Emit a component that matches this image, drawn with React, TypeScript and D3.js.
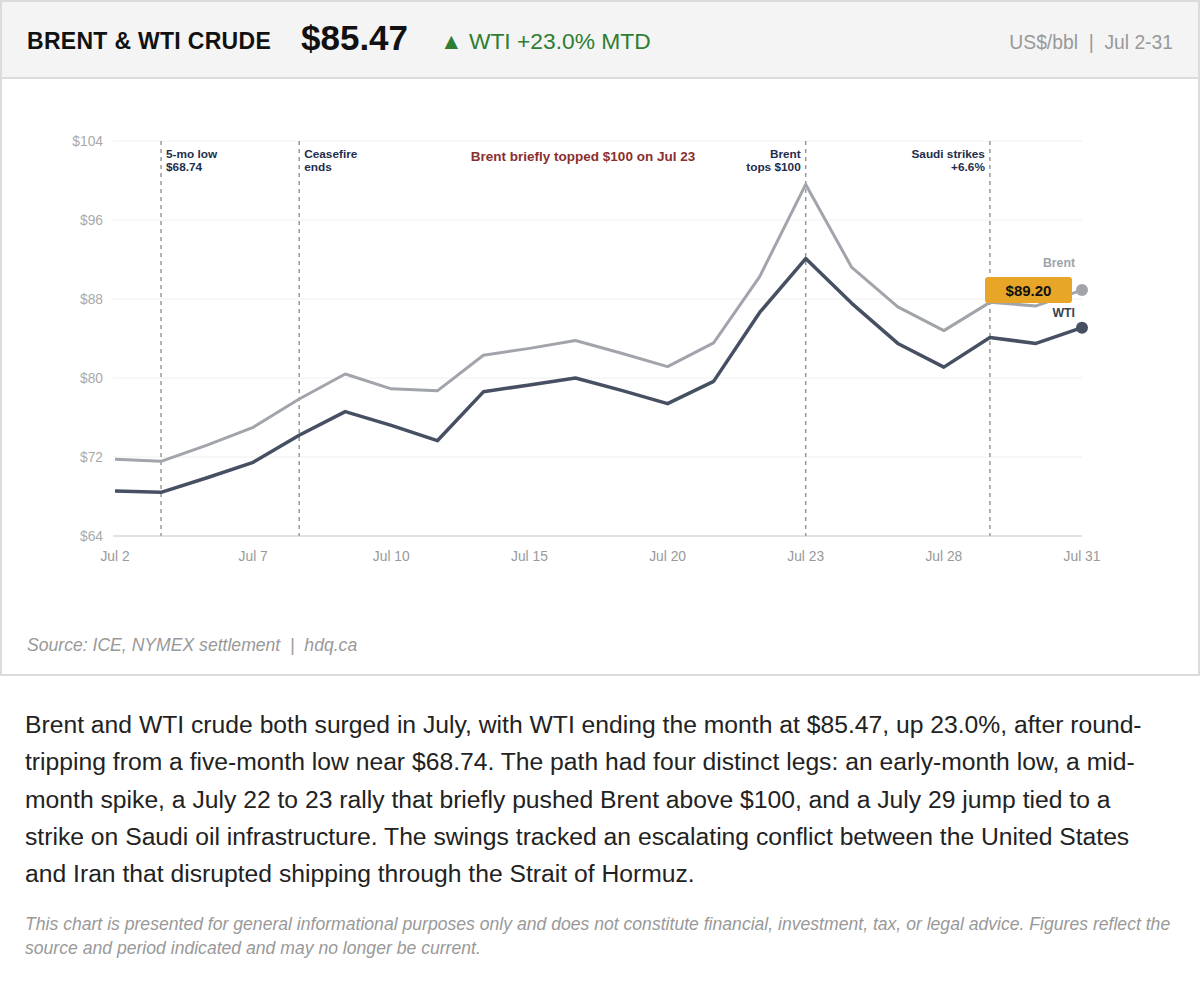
import React, { useEffect } from 'react';
import * as d3 from 'd3';

const dates = ["Jul 2", "Jul 3", "Jul 6", "Jul 7", "Jul 8", "Jul 9", "Jul 10", "Jul 13", "Jul 14", "Jul 15", "Jul 16",
  "Jul 17", "Jul 20", "Jul 21", "Jul 22", "Jul 23", "Jul 24", "Jul 27", "Jul 28", "Jul 29", "Jul 30", "Jul 31"];
const brent = [71.77, 71.56, 73.2, 75.0, 77.87, 80.4, 78.9, 78.7, 82.3, 83.0, 83.8,
  82.5, 81.15, 83.56, 90.27, 99.6, 91.2, 87.2, 84.8, 87.66, 87.3, 88.9];
const wti = [68.56, 68.42, 69.9, 71.46, 74.2, 76.6, 75.2, 73.65, 78.6, 79.3, 80.0,
  78.75, 77.4, 79.66, 86.64, 92.1, 87.56, 83.5, 81.1, 84.1, 83.5, 85.1];
const xTicks = ["Jul 2", "Jul 7", "Jul 10", "Jul 15", "Jul 20", "Jul 23", "Jul 28", "Jul 31"];
const yTicks = [64, 72, 80, 88, 96, 104];

// event markers: date, text lines, which side of the line the text sits
const events = [
  { date: "Jul 3", lines: ["5-mo low", "$68.74"], side: "right" },
  { date: "Jul 8", lines: ["Ceasefire", "ends"], side: "right" },
  { date: "Jul 23", lines: ["Brent", "tops $100"], side: "left" },
  { date: "Jul 29", lines: ["Saudi strikes", "+6.6%"], side: "left" },
];

const paragraph = [
  "Brent and WTI crude both surged in July, with WTI ending the month at $85.47, up 23.0%, after round-",
  "tripping from a five-month low near $68.74. The path had four distinct legs: an early-month low, a mid-",
  "month spike, a July 22 to 23 rally that briefly pushed Brent above $100, and a July 29 jump tied to a",
  "strike on Saudi oil infrastructure. The swings tracked an escalating conflict between the United States",
  "and Iran that disrupted shipping through the Strait of Hormuz.",
];
const disclaimer = [
  "This chart is presented for general informational purposes only and does not constitute financial, investment, tax, or legal advice. Figures reflect the",
  "source and period indicated and may no longer be current.",
];

const FONT = '"Liberation Sans", Arial, Helvetica, sans-serif';
const BRENT_C = "#a1a4ab";
const WTI_C = "#475062";
const NAVY = "#1f2d4d";

export default function App() {
  useEffect(() => {
    document.body.style.margin = "0";
  }, []);

  const x = d3.scalePoint<string>().domain(dates).range([115, 1082]);
  const y = d3.scaleLinear().domain([64, 104]).range([536, 141]);

  const line = d3.line<number>()
    .x((_, i) => x(dates[i]) as number)
    .y(d => y(d));

  const last = dates.length - 1;
  const xEnd = x(dates[last]) as number;
  const yBrentEnd = y(brent[last]);
  const yWtiEnd = y(wti[last]);

  return (
    <svg width={1200} height={1001} style={{ display: 'block', fontFamily: FONT }}>
      <rect x={0} y={0} width={1200} height={1001} fill="#fff" />

      {/* card */}
      <rect x={1} y={1} width={1198} height={674} fill="#fff" stroke="#dcdcdc" strokeWidth={2} />
      <rect x={2} y={2} width={1196} height={76} fill="#f4f4f4" />
      <line x1={1} x2={1199} y1={78} y2={78} stroke="#dcdcdc" strokeWidth={2} />

      <text x={27} y={49} fontSize={23} fontWeight="bold" fill="#111" letterSpacing={0.3}>BRENT &amp; WTI CRUDE</text>
      <text x={301} y={50} fontSize={35} fontWeight="bold" fill="#111">$85.47</text>
      <text x={440} y={49} fontSize={22.8} fill="#2e7d32">▲ WTI +23.0% MTD</text>
      <text x={1173} y={49} fontSize={19.3} fill="#999" textAnchor="end" xmlSpace="preserve">US$/bbl  |  Jul 2-31</text>

      {/* grid */}
      {yTicks.map(t => (
        <g key={t}>
          <line x1={113} x2={1082} y1={y(t)} y2={y(t)} stroke={t === 64 ? "#d8d8d8" : "#f0f0f0"} strokeWidth={t === 64 ? 1.5 : 1} />
          <text x={103} y={y(t)} dy="0.35em" fontSize={13.8} fill="#aaa" textAnchor="end">${t}</text>
        </g>
      ))}
      {xTicks.map(t => (
        <text key={t} x={x(t)} y={561} fontSize={13.8} fill="#999" textAnchor="middle">{t}</text>
      ))}

      {/* event markers */}
      {events.map(e => {
        const ex = x(e.date) as number;
        const right = e.side === "right";
        return (
          <g key={e.date}>
            <line x1={ex} x2={ex} y1={141} y2={536} stroke="#999" strokeWidth={1.5} strokeDasharray="4,4" />
            {e.lines.map((l, i) => (
              <text key={i} x={right ? ex + 5 : ex - 5} y={158 + i * 13} fontSize={11.8} fontWeight="bold"
                fill={NAVY} textAnchor={right ? "start" : "end"}>{l}</text>
            ))}
          </g>
        );
      })}
      <text x={583} y={161} fontSize={13.5} fontWeight="bold" fill="#8b2e2e" textAnchor="middle">Brent briefly topped $100 on Jul 23</text>

      {/* lines */}
      <path d={line(brent) as string} fill="none" stroke={BRENT_C} strokeWidth={3} strokeLinejoin="round" />
      <path d={line(wti) as string} fill="none" stroke={WTI_C} strokeWidth={3.5} strokeLinejoin="round" />
      <circle cx={xEnd} cy={yBrentEnd} r={6} fill={BRENT_C} />
      <circle cx={xEnd} cy={yWtiEnd} r={6} fill={WTI_C} />

      {/* end labels */}
      <text x={xEnd - 7} y={yBrentEnd - 23} fontSize={12.3} fontWeight="bold" fill={BRENT_C} textAnchor="end">Brent</text>
      <text x={xEnd - 7} y={yWtiEnd - 11} fontSize={12.3} fontWeight="bold" fill="#3a4252" textAnchor="end">WTI</text>
      <rect x={xEnd - 97} y={yBrentEnd - 13} width={87} height={26} rx={3} fill="#e8a628" />
      <text x={xEnd - 53.5} y={yBrentEnd} dy="0.36em" fontSize={15} fontWeight="bold" fill="#111" textAnchor="middle">$89.20</text>

      <text x={27} y={651} fontSize={17.6} fontStyle="italic" fill="#999" xmlSpace="preserve">Source: ICE, NYMEX settlement  |  hdq.ca</text>

      {/* commentary */}
      {paragraph.map((l, i) => (
        <text key={i} x={25} y={733 + i * 37.3} fontSize={24.7} fill="#222">{l}</text>
      ))}
      {disclaimer.map((l, i) => (
        <text key={i} x={25} y={930 + i * 24} fontSize={17.6} fontStyle="italic" fill="#999">{l}</text>
      ))}
    </svg>
  );
}
